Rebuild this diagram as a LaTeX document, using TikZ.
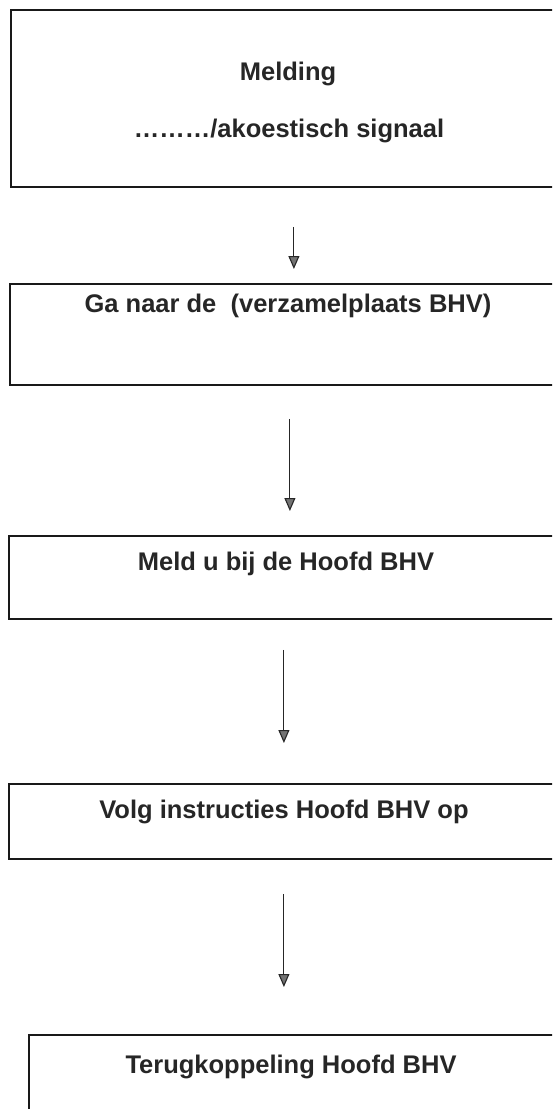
\documentclass[tikz,border=0pt]{standalone}
\usepackage{fontspec}
\setmainfont{Liberation Sans}
\usepackage{tikz}
\usetikzlibrary{arrows.meta, positioning}

\begin{document}
\begin{tikzpicture}[
  x=1pt, y=-1pt,
  stepbox/.style={rectangle, draw=black!90, line width=1.8pt, anchor=north west,
                  minimum width=554pt, inner sep=0pt},
  steplabel/.style={anchor=base, font=\fontsize{25.5}{30}\selectfont\bfseries,
                    text=black!85, inner sep=0pt},
  arrow/.style={-{Triangle[length=13pt, width=11pt, fill=black!55]},
                line width=1.1pt, color=black!85}
]
\useasboundingbox (0,0) rectangle (552,1109);
\clip (0,0) rectangle (552,1109);

% boxes
\node[stepbox, minimum height=177pt] (melding)  at (10,9)   {};
\node[stepbox, minimum height=101pt] (verzamel) at (9,283)  {};
\node[stepbox, minimum height=83pt]  (meld)     at (8,535)  {};
\node[stepbox, minimum height=75pt]  (volg)     at (8,783)  {};
\node[stepbox, minimum height=91pt]  (terug)    at (28,1034) {};

% texts
\node[steplabel] (meldingtxt) at (288,80)   {Melding};
\node[steplabel] (signaaltxt) at (289,137)  {………/akoestisch signaal};
\node[steplabel] (verzameltxt) at (288,312) {Ga naar de\ \ (verzamelplaats BHV)};
\node[steplabel] (meldtxt)    at (286,570)  {Meld u bij de Hoofd BHV};
\node[steplabel] (volgtxt)    at (284,818)  {Volg instructies Hoofd BHV op};
\node[steplabel] (terugtxt)   at (291,1073) {Terugkoppeling Hoofd BHV};

% arrows
\draw[arrow, shorten <=39pt, shorten >=14pt] ([xshift=6pt]melding.south) -- ([xshift=6pt]melding.south |- verzamel.north);
\draw[arrow, shorten <=33pt, shorten >=24pt] ([xshift=3pt]verzamel.south) -- ([xshift=3pt]verzamel.south |- meld.north);
\draw[arrow, shorten <=30pt, shorten >=40pt] ([xshift=-2pt]meld.south) -- ([xshift=-2pt]meld.south |- volg.north);
\draw[arrow, shorten <=34pt, shorten >=47pt] ([xshift=-2pt]volg.south) -- ([xshift=-2pt]volg.south |- terug.north);

\end{tikzpicture}
\end{document}
